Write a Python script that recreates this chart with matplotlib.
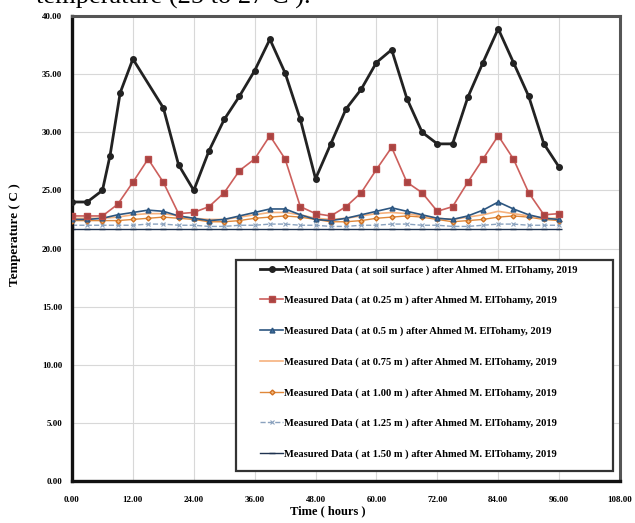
import matplotlib
matplotlib.use("Agg")
import matplotlib.pyplot as plt
from matplotlib.patches import Rectangle

# hours of the measurements
hours = [0, 3, 6, 9, 12, 15, 18, 21, 24, 27, 30, 33, 36, 39, 42, 45, 48,
         51, 54, 57, 60, 63, 66, 69, 72, 75, 78, 81, 84, 87, 90, 93, 96]
hours_surface = [0, 3, 6, 7.5, 9.5, 12, 18, 21, 24, 27, 30, 33, 36, 39, 42, 45, 48,
                 51, 54, 57, 60, 63, 66, 69, 72, 75, 78, 81, 84, 87, 90, 93, 96]

t_surface = [24.0, 24.0, 25.0, 28.0, 33.4, 36.3, 32.1, 27.2, 25.0, 28.4, 31.1, 33.1, 35.3,
             38.0, 35.1, 31.1, 26.0, 29.0, 32.0, 33.7, 36.0, 37.1, 32.9, 30.0, 29.0,
             29.0, 33.0, 36.0, 38.9, 36.0, 33.1, 29.0, 27.0]
t_025 = [22.8, 22.8, 22.8, 23.8, 25.7, 27.7, 25.7, 23.0, 23.1, 23.6, 24.8, 26.7, 27.7,
         29.7, 27.7, 23.6, 23.0, 22.8, 23.6, 24.8, 26.8, 28.7, 25.7, 24.8, 23.2,
         23.6, 25.7, 27.7, 29.7, 27.7, 24.8, 22.9, 23.0]
t_050 = [22.5, 22.5, 22.6, 22.9, 23.1, 23.3, 23.2, 22.8, 22.6, 22.4, 22.5, 22.8, 23.1,
         23.4, 23.4, 22.9, 22.5, 22.4, 22.6, 22.9, 23.2, 23.5, 23.2, 22.9, 22.6,
         22.5, 22.8, 23.3, 24.0, 23.4, 22.9, 22.6, 22.5]
t_075 = [22.6, 22.6, 22.6, 22.7, 22.9, 23.0, 23.0, 22.8, 22.6, 22.5, 22.5, 22.7, 22.9,
         23.1, 23.1, 22.9, 22.6, 22.5, 22.6, 22.8, 23.0, 23.1, 23.0, 22.8, 22.6,
         22.5, 22.7, 22.9, 23.2, 23.0, 22.8, 22.6, 22.6]
t_100 = [22.4, 22.4, 22.4, 22.4, 22.5, 22.6, 22.7, 22.6, 22.5, 22.3, 22.3, 22.4, 22.6,
         22.7, 22.8, 22.7, 22.5, 22.3, 22.3, 22.4, 22.6, 22.7, 22.8, 22.7, 22.5,
         22.3, 22.4, 22.5, 22.7, 22.8, 22.7, 22.5, 22.4]
t_125 = [22.0, 22.0, 22.0, 22.0, 22.0, 22.1, 22.1, 22.0, 22.0, 21.9, 21.9, 22.0, 22.0,
         22.1, 22.1, 22.0, 22.0, 21.9, 21.9, 22.0, 22.0, 22.1, 22.1, 22.0, 22.0,
         21.9, 21.9, 22.0, 22.1, 22.1, 22.0, 22.0, 22.0]
t_150 = [21.7, 21.7, 21.7, 21.7, 21.7, 21.7, 21.7, 21.7, 21.7, 21.7, 21.7, 21.7, 21.7,
         21.7, 21.7, 21.7, 21.7, 21.7, 21.7, 21.7, 21.7, 21.7, 21.7, 21.7, 21.7,
         21.7, 21.7, 21.7, 21.7, 21.7, 21.7, 21.7, 21.7]

x_ticks = [0, 12, 24, 36, 48, 60, 72, 84, 96, 108]
y_ticks = [0, 5, 10, 15, 20, 25, 30, 35, 40]

plt.rcParams["font.family"] = ["Liberation Serif", "DejaVu Serif"]

fig = plt.figure(figsize=(6.35, 5.23), dpi=100)
ax = fig.add_axes([72 / 635, 1 - 481 / 523, 548 / 635, 465 / 523])

src = " after Ahmed M. ElTohamy, 2019"
ax.plot(hours, t_150, color="#1F3350", lw=1.0, marker="_", ms=5, mew=1.0,
        label="Measured Data ( at 1.50 m )" + src, zorder=2)
ax.plot(hours, t_125, color="#8AA2BE", lw=1.0, ls="--", marker="x", ms=3, mew=0.8,
        label="Measured Data ( at 1.25 m )" + src, zorder=2)
ax.plot(hours, t_100, color="#E0883A", lw=1.0, marker="D", ms=2.5, mfc="#F5B87A",
        mec="#D07020", label="Measured Data ( at 1.00 m )" + src, zorder=3)
ax.plot(hours, t_075, color="#F6B27E", lw=1.2,
        label="Measured Data ( at 0.75 m )" + src, zorder=3)
ax.plot(hours, t_050, color="#2D5680", lw=1.2, marker="^", ms=3.5, mfc="#3F6FA0",
        label="Measured Data ( at 0.5 m )" + src, zorder=4)
ax.plot(hours, t_025, color="#CC5F5C", lw=1.2, marker="s", ms=4, mfc="#A84442",
        mec="#B84C4A", label="Measured Data ( at 0.25 m )" + src, zorder=5)
ax.plot(hours_surface, t_surface, color="#222222", lw=2.0, marker="o", ms=4,
        label="Measured Data ( at soil surface )" + src, zorder=6)

ax.set_xlim(0, 108)
ax.set_ylim(0, 40)
ax.set_xticks(x_ticks)
ax.set_yticks(y_ticks)
ax.set_xticklabels([f"{v:.2f}" for v in x_ticks])
ax.set_yticklabels([f"{v:.2f}" for v in y_ticks])
ax.tick_params(labelsize=6.5, length=0)
ax.tick_params(axis="x", pad=11)
ax.tick_params(axis="y", pad=7)
for lab in ax.get_xticklabels() + ax.get_yticklabels():
    lab.set_fontweight("bold")
ax.grid(True, color="#D8D8D8", lw=0.8)
ax.set_axisbelow(True)
for side in ["top", "right"]:
    ax.spines[side].set_color("#555555")
    ax.spines[side].set_linewidth(2.2)
for side in ["left", "bottom"]:
    ax.spines[side].set_color("#111111")
    ax.spines[side].set_linewidth(2.4)

# legend frame drawn separately, entries placed inside
ax.add_patch(Rectangle((164 / 548, 10 / 465), 377 / 548, 211 / 465, transform=ax.transAxes,
                       fill=True, facecolor="white", edgecolor="#333333", lw=1.6, zorder=7))
handles, labels = ax.get_legend_handles_labels()
leg = ax.legend(handles[::-1], labels[::-1], loc="upper left",
                bbox_to_anchor=(188 / 548, 216 / 465), frameon=False,
                prop={"size": 7.6, "weight": "bold"}, labelspacing=2.0,
                handlelength=2.2, handletextpad=0.1, borderpad=0, borderaxespad=0)
leg.set_zorder(8)

fig.text(328 / 635, 1 - 511 / 523, "Time ( hours )", ha="center", va="center",
         fontsize=9, fontweight="bold")
fig.text(15 / 635, 1 - 235 / 523, "Temperature ( C )", ha="center", va="center",
         rotation=90, fontsize=9.5, fontweight="bold")
fig.text(36 / 635, 1 - 4 / 523, "temperature (25 to 27 C ).", ha="left", va="baseline",
         fontsize=19)

fig.savefig("out.png", dpi=100)
